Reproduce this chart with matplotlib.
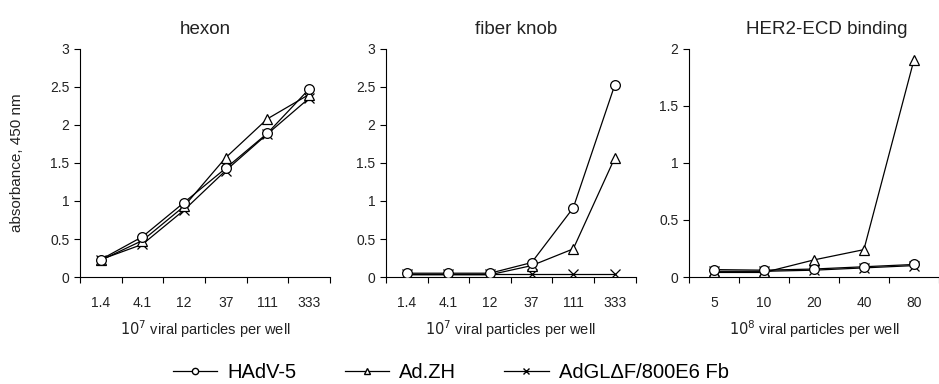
import numpy as np
import matplotlib.pyplot as plt
from matplotlib.lines import Line2D

plt.rcParams['font.family'] = ['Liberation Sans', 'DejaVu Sans']

# data
hexon_x = ['1.4', '4.1', '12', '37', '111', '333']
hexon_hadv5 = [0.23, 0.53, 0.98, 1.43, 1.89, 2.47]
hexon_adzh = [0.22, 0.48, 0.93, 1.57, 2.08, 2.40]
hexon_adgl = [0.23, 0.43, 0.88, 1.40, 1.88, 2.35]

knob_x = ['1.4', '4.1', '12', '37', '111', '333']
knob_hadv5 = [0.05, 0.05, 0.05, 0.19, 0.91, 2.53]
knob_adzh = [0.03, 0.03, 0.03, 0.15, 0.37, 1.57]
knob_adgl = [0.04, 0.04, 0.04, 0.04, 0.04, 0.04]

her2_x = ['5', '10', '20', '40', '80']
her2_hadv5 = [0.065, 0.06, 0.07, 0.09, 0.11]
her2_adzh = [0.04, 0.04, 0.15, 0.24, 1.90]
her2_adgl = [0.05, 0.05, 0.06, 0.08, 0.10]

titles = ['hexon', 'fiber knob', 'HER2-ECD binding']
xlabels = ['$10^7$ viral particles per well', '$10^7$ viral particles per well',
           '$10^8$ viral particles per well']
ymax = [3, 3, 2]
labels = ['HAdV-5', 'Ad.ZH', 'AdGL\u0394F/800E6 Fb']

panels = [
    (hexon_x, hexon_hadv5, hexon_adzh, hexon_adgl),
    (knob_x, knob_hadv5, knob_adzh, knob_adgl),
    (her2_x, her2_hadv5, her2_adzh, her2_adgl),
]

fig = plt.figure(figsize=(9.39, 3.84), dpi=100)
lefts = [0.0852, 0.411, 0.7338]
title_x = [0.5, 0.52, 0.55]
mk = dict(color='black', lw=0.9, markerfacecolor='white', markeredgecolor='black',
          markeredgewidth=0.9, markersize=7)
txt = '#222222'

for i, (cats, s1, s2, s3) in enumerate(panels):
    ax = fig.add_axes([lefts[i], 0.2786, 0.266, 0.594])
    n = len(cats)
    xs = np.arange(n) + 0.5
    ax.plot(xs, s3, marker='x', zorder=3, **mk)
    ax.plot(xs, s2, marker='^', zorder=4, **mk)
    ax.plot(xs, s1, marker='o', zorder=5, **mk)
    ax.set_xlim(0, n)
    ax.set_ylim(0, ymax[i])
    yt = np.arange(0, ymax[i] + 0.01, 0.5)
    ax.set_yticks(yt)
    ax.set_yticklabels([f'{v:g}' for v in yt])
    # category axis: tick marks between categories, labels in the middle
    ax.set_xticks(np.arange(n + 1))
    ax.set_xticklabels([])
    ax.set_xticks(xs, minor=True)
    ax.set_xticklabels(cats, minor=True)
    ax.tick_params(axis='x', which='minor', length=0, pad=13.5, labelsize=10, colors=txt)
    ax.tick_params(axis='x', which='major', length=4, width=0.8, direction='out')
    ax.tick_params(axis='y', length=4, width=0.8, direction='out', labelsize=10,
                   colors=txt)
    ax.tick_params(axis='both', color='black')
    for s in ['top', 'right']:
        ax.spines[s].set_visible(False)
    for s in ['left', 'bottom']:
        ax.spines[s].set_linewidth(0.8)
    ax.set_title(titles[i], fontsize=13.5, pad=11, color=txt, x=title_x[i])
    ax.set_xlabel(xlabels[i], fontsize=10.5, labelpad=6, color=txt)
    if i == 0:
        ax.set_ylabel('absorbance, 450 nm', fontsize=11, labelpad=19, color=txt)

handles = [
    Line2D([], [], color='black', lw=0.9, marker='o', markerfacecolor='white',
           markeredgecolor='black', markersize=4.5),
    Line2D([], [], color='black', lw=0.9, marker='^', markerfacecolor='white',
           markeredgecolor='black', markersize=4.5),
    Line2D([], [], color='black', lw=0.9, marker='x', markeredgecolor='black',
           markersize=5),
]
fig.legend(handles, labels, loc='center', bbox_to_anchor=(0.48, 0.03), ncol=3,
           frameon=False, fontsize=14.5, handlelength=2.2, columnspacing=2.4,
           handletextpad=0.5, borderpad=0.1)

fig.savefig('out.png', dpi=100)
